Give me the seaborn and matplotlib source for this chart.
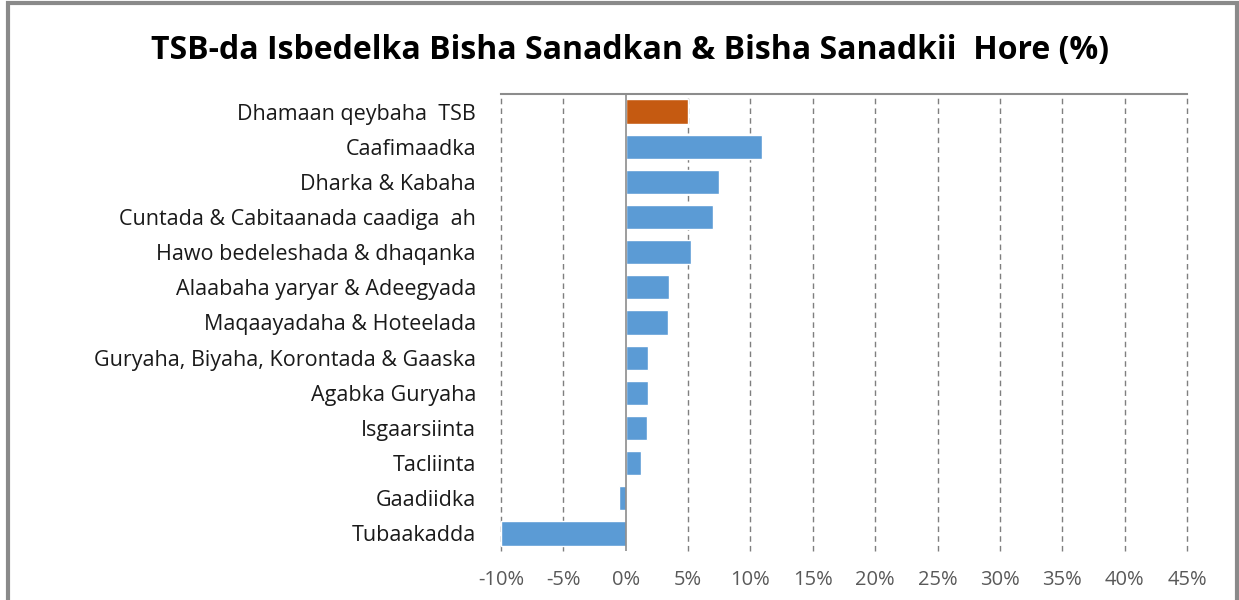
import matplotlib
matplotlib.use("Agg")
import matplotlib.pyplot as plt
import matplotlib.patches as patches
import seaborn as sns
import pandas as pd

# -----------------------------
# Data
# -----------------------------
categories = [
    "Dhamaan qeybaha  TSB",
    "Caafimaadka",
    "Dharka & Kabaha",
    "Cuntada & Cabitaanada caadiga  ah",
    "Hawo bedeleshada & dhaqanka",
    "Alaabaha yaryar & Adeegyada",
    "Maqaayadaha & Hoteelada",
    "Guryaha, Biyaha, Korontada & Gaaska",
    "Agabka Guryaha",
    "Isgaarsiinta",
    "Tacliinta",
    "Gaadiidka",
    "Tubaakadda",
]
values = [5.0, 10.9, 7.5, 7.0, 5.25, 3.5, 3.35, 1.8, 1.8, 1.7, 1.2, -0.55, -10.0]
bar_colors = ["#C55A11"] + ["#5B9BD5"] * 12
tick_values = [-10, -5, 0, 5, 10, 15, 20, 25, 30, 35, 40, 45]
tick_labels = [f"{t}%" for t in tick_values]
title = "TSB-da Isbedelka Bisha Sanadkan & Bisha Sanadkii  Hore (%)"

df = pd.DataFrame({"category": categories, "value": values})

# -----------------------------
# Figure
# -----------------------------
sns.set_style("white")
plt.rcParams["font.family"] = ["Open Sans", "DejaVu Sans"]

fig = plt.figure(figsize=(12.39, 6.0), dpi=100)
ax = fig.add_axes([501 / 1239, 1 - 551 / 600, (1187 - 501) / 1239, (551 - 94) / 600])

sns.barplot(
    data=df, y="category", x="value", hue="category",
    palette=bar_colors, legend=False, orient="h",
    width=0.69, saturation=1, ax=ax,
)

ax.set_xlim(-10, 45)
ax.set_ylim(len(categories) - 0.5, -0.5)
ax.set_xticks(tick_values)
ax.set_xticklabels(tick_labels, color="#595959", fontsize=14.5)
ax.tick_params(axis="x", length=0, pad=14)
ax.tick_params(axis="y", length=0, pad=18, labelsize=15.5, labelcolor="#1a1a1a")
ax.set_xlabel("")
ax.set_ylabel("")

# dashed vertical gridlines
for t in tick_values:
    if t == 0:
        continue
    ax.axvline(t, color="#7f7f7f", linewidth=1.0, linestyle=(0, (4, 3)),
               zorder=0, clip_on=False)
ax.axvline(0, color="#8c8c8c", linewidth=1.2, zorder=3)

for side in ["left", "right", "bottom"]:
    ax.spines[side].set_visible(False)
ax.spines["top"].set_color("#8c8c8c")
ax.spines["top"].set_linewidth(1.5)

fig.text(630 / 1239, 1 - 51 / 600, title, ha="center", va="center",
         fontsize=23, fontweight="bold", color="#000000")

# outer frame
fig.patches.append(patches.Rectangle(
    (8 / 1239, -0.05), (1237 - 8) / 1239, 1.05 - 3 / 600,
    transform=fig.transFigure, fill=False, edgecolor="#8a8a8a", linewidth=3,
))

fig.savefig("out.png", dpi=100, facecolor="white")
